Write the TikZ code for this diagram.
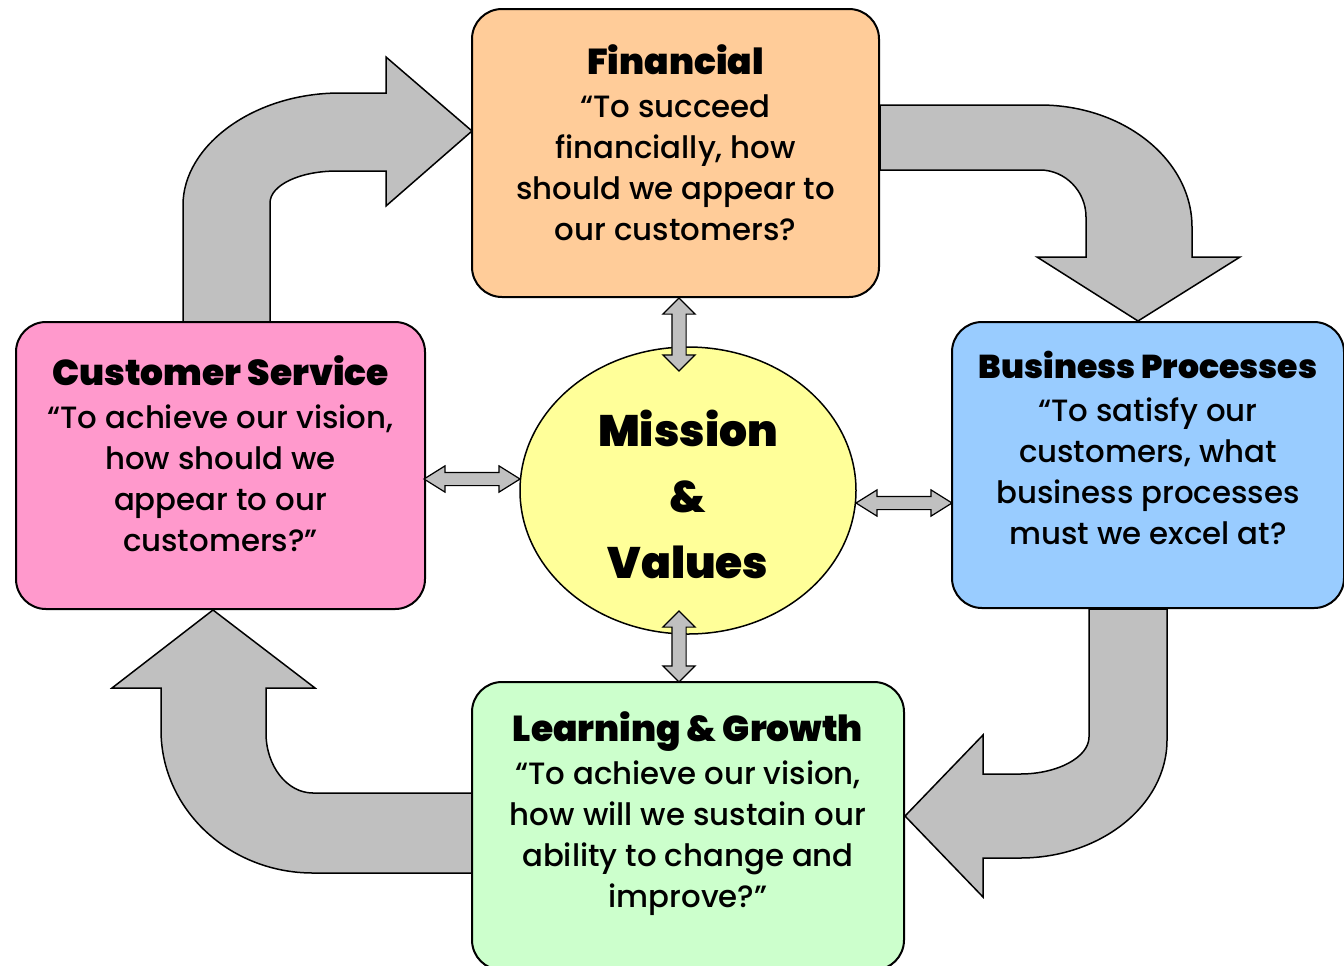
\documentclass[tikz,border=0pt]{standalone}
\usepackage{fontspec}
\setmainfont{Poppins Medium}
\newfontfamily\headfont{Poppins Black}
\usetikzlibrary{shapes.geometric,shapes.arrows}

\definecolor{finfill}{HTML}{FFCC99}
\definecolor{custfill}{HTML}{FF99CC}
\definecolor{bizfill}{HTML}{99CCFF}
\definecolor{learnfill}{HTML}{CCFFCC}
\definecolor{corefill}{HTML}{FFFF99}
\definecolor{loopfill}{HTML}{C0C0C0}

\newcommand{\heading}[2][18]{{\headfont\fontsize{#1}{20}\selectfont #2}}
\newcommand{\pad}[1]{\rule[-#1]{0pt}{#1}}

\tikzset{
  persp/.style={draw, line width=1pt, rounded corners=15pt, align=center,
    inner sep=0pt, font=\fontsize{15.4}{20.5}\selectfont},
  loop/.style={draw, line width=0.75pt, fill=loopfill},
  link/.style={double arrow, draw, line width=0.6pt, fill=loopfill,
    inner xsep=0pt, double arrow head indent=0pt}
}

\begin{document}
\begin{tikzpicture}[x=0.5pt, y=-0.5pt]
  \useasboundingbox (0,0) rectangle (1344,965);

  % big loop arrows, drawn first so the boxes sit on top
  \draw[loop] (183,322) -- (183,205) .. controls (183,146) and (253,93) .. (340,93)
    -- (386,93) -- (386,57) -- (472,131) -- (386,206) -- (386,171) -- (337,171)
    .. controls (300,171) and (270,185) .. (270,203) -- (270,322) -- cycle;
  \draw[loop] (880,105) -- (1040,105) .. controls (1124,105) and (1192,160) .. (1192,227)
    -- (1192,257) -- (1240,257) -- (1138,321) -- (1037,257) -- (1086,257) -- (1086,217)
    .. controls (1086,191) and (1065,170) .. (1040,170) -- (880,170) -- cycle;
  \draw[loop] (1167,609) -- (1167,740) .. controls (1167,805) and (1101,858) .. (1020,858)
    -- (983,858) -- (983,897) -- (905,816) -- (983,735) -- (983,774) -- (1020,774)
    .. controls (1058,774) and (1089,757) .. (1089,737) -- (1089,609) -- cycle;
  \draw[loop] (472,873) -- (313,873) .. controls (229,873) and (161,809) .. (161,730)
    -- (161,688) -- (112,688) -- (213,610) -- (315,688) -- (266,688) -- (266,733)
    .. controls (266,766) and (287,793) .. (313,793) -- (472,793) -- cycle;

  % perspectives
  \node[persp, fill=finfill, minimum width=203.5pt, minimum height=144pt] (fin) at (675.5,153)
    {\heading{Financial}\\[1pt]
     “To succeed\\ financially, how\\ should we appear to\\ our customers?\pad{10pt}};
  \node[persp, fill=custfill, minimum width=204.5pt, minimum height=143.5pt] (cust) at (220.5,465.5)
    {\heading{Customer Service}\\[1pt]
     “To achieve our vision,\\ how should we\\ appear to our\\ customers?”\pad{12pt}};
  \node[persp, fill=bizfill, minimum width=196pt, minimum height=143pt] (biz) at (1148,465)
    {\heading[16.5]{Business Processes}\\[1pt]
     “To satisfy our\\ customers, what\\ business processes\\ must we excel at?\pad{17pt}};
  \node[persp, fill=learnfill, minimum width=216pt, minimum height=144pt] (learn) at (688,826)
    {\heading{Learning \& Growth}\\[1pt]
     “To achieve our vision,\\ how will we sustain our\\ ability to change and\\ improve?”\pad{16pt}};

  \node[ellipse, draw, line width=0.75pt, fill=corefill, minimum width=168pt, minimum height=143.5pt,
    inner sep=0pt, align=center, font=\headfont\fontsize{22}{33}\selectfont] (core) at (688,490.5)
    {\rule{0pt}{22pt}Mission\\ \&\\ Values};

  % two-way links to the centre
  \node[link, rotate=90, inner ysep=3.25pt, double arrow tip angle=90, double arrow head extend=4.5pt,
    minimum width=15.5pt, minimum height=36.5pt] (finlink) at (679,334.5) {};
  \node[link, rotate=90, inner ysep=3.25pt, double arrow tip angle=90, double arrow head extend=4.5pt,
    minimum width=15.5pt, minimum height=35.5pt] (learnlink) at (679,646.5) {};
  \node[link, inner ysep=3pt, double arrow tip angle=64, double arrow head extend=3.25pt,
    minimum width=12.5pt, minimum height=48pt] (custlink) at (472,479) {};
  \node[link, inner ysep=3pt, double arrow tip angle=64, double arrow head extend=3.25pt,
    minimum width=12.5pt, minimum height=48pt] (bizlink) at (904,503) {};
\end{tikzpicture}
\end{document}
